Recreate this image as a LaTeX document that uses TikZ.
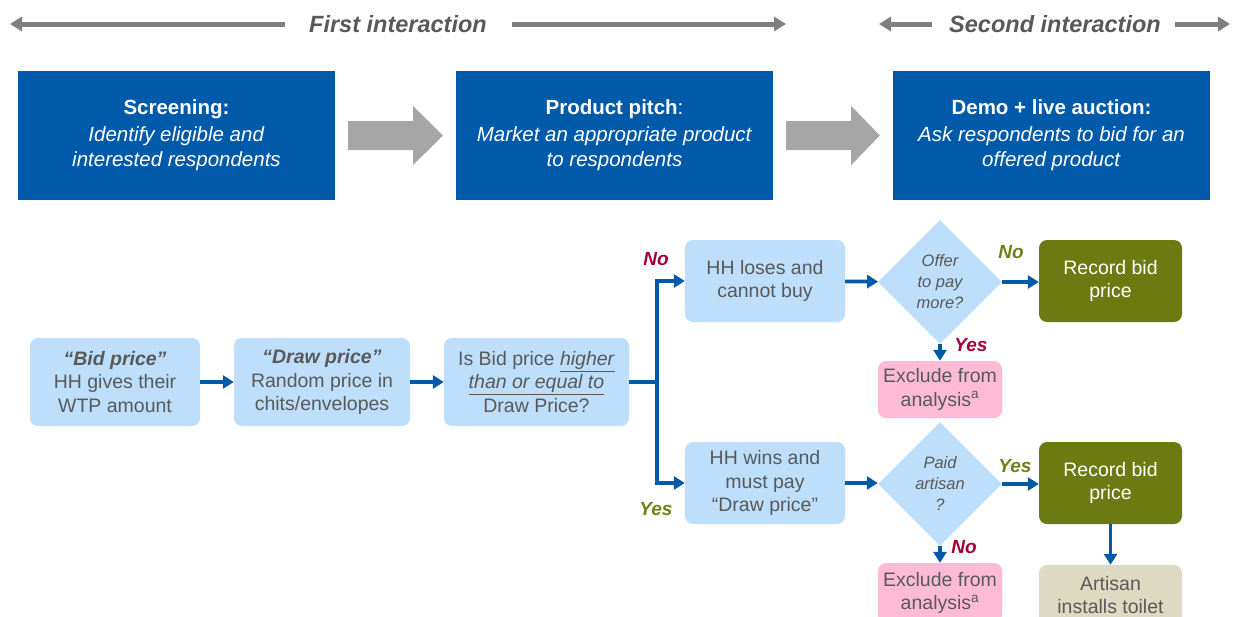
\documentclass[tikz,border=0pt]{standalone}
\usepackage{fontspec}
\setmainfont{Liberation Sans}
\usetikzlibrary{shapes.geometric,arrows.meta,calc}
\definecolor{topblue}{RGB}{0,90,170}
\definecolor{lightblue}{RGB}{189,223,251}
\definecolor{flowblue}{RGB}{0,90,168}
\definecolor{olive}{RGB}{107,123,18}
\definecolor{labolive}{RGB}{112,128,25}
\definecolor{crimson}{RGB}{165,0,52}
\definecolor{pinkbox}{RGB}{255,187,214}
\definecolor{beige}{RGB}{221,217,195}
\definecolor{txtgrey}{RGB}{89,89,89}
\definecolor{hdrgrey}{RGB}{127,127,127}
\definecolor{bigarrow}{RGB}{166,166,166}
\tikzset{
  topbox/.style={fill=topblue, text=white, minimum width=317pt, minimum height=129pt, align=center, inner sep=0pt,
    font=\fontsize{20.5}{25.5}\selectfont},
  lbox/.style={fill=lightblue, text=txtgrey, rounded corners=8pt, minimum height=88pt, align=center, inner sep=0pt,
    font=\fontsize{19.5}{23.5}\selectfont},
  dbox/.style={fill=lightblue, text=txtgrey, diamond, minimum width=124pt, minimum height=124pt, inner sep=0pt,
    align=center, font=\fontsize{16.5}{21}\selectfont\itshape},
  rbox/.style={fill=olive, text=white, rounded corners=8pt, minimum width=143pt, minimum height=82pt, align=center,
    inner sep=0pt, font=\fontsize{19.5}{23.5}\selectfont},
  xbox/.style={fill=pinkbox, text=txtgrey, rounded corners=8pt, minimum width=124pt, align=center, inner sep=0pt,
    font=\fontsize{19.5}{23.5}\selectfont},
  abox/.style={fill=beige, text=txtgrey, rounded corners=8pt, minimum width=143pt, minimum height=60pt, align=center,
    inner sep=0pt, font=\fontsize{19.5}{23.5}\selectfont},
  flow/.style={draw=flowblue, line width=3.8pt},
  flowarr/.style={flow, -{Triangle[length=11pt,width=13pt]}},
  hdr/.style={draw=hdrgrey, line width=5pt},
  hdrarr/.style={hdr, -{Triangle[length=12pt,width=14pt]}},
  hdrtext/.style={text=txtgrey, font=\fontsize{23.5}{26}\selectfont\bfseries\itshape},
  labno/.style={text=crimson, font=\fontsize{19}{22}\selectfont\bfseries\itshape},
  labyes/.style={text=labolive, font=\fontsize{19}{22}\selectfont\bfseries\itshape},
}
\begin{document}
\begin{tikzpicture}[x=1pt,y=-1pt]
\useasboundingbox (0,0) rectangle (1233,616);
% header
\node[hdrtext] (h1) at (398,24) {First interaction};
\node[hdrtext] (h2) at (1055,24) {Second interaction};
\coordinate (h1l) at (10,24);
\coordinate (h1r) at (786,24);
\coordinate (h2l) at (879,24);
\coordinate (h2r) at (1230,24);
\draw[hdrarr] (285,24) -- (h1l);
\draw[hdrarr] (512,24) -- (h1r);
\draw[hdrarr] (932,24) -- (h2l);
\draw[hdrarr] (1175,24) -- (h2r);
% top boxes
\node[topbox] (s1) at (176.5,135.5) {\textbf{Screening:}\\[1pt]\textit{Identify eligible and}\\\textit{interested respondents}};
\node[topbox] (s2) at (614.5,135.5) {\textbf{Product pitch}:\\[1pt]\textit{Market an appropriate product}\\\textit{to respondents}};
\node[topbox] (s3) at (1051.5,135.5) {\textbf{Demo + live auction:}\\[1pt]\textit{Ask respondents to bid for an}\\\textit{offered product}};
\foreach \a/\b in {s1/s2, s2/s3}{
  \fill[bigarrow] ($(\a.east)+(13,-14.5)$) -- ($(\a.east)+(78,-14.5)$) -- ($(\a.east)+(78,-29.5)$)
    -- ($(\b.west)+(-13,0)$) -- ($(\a.east)+(78,29.5)$) -- ($(\a.east)+(78,14.5)$) -- ($(\a.east)+(13,14.5)$) -- cycle;
}
% flowchart
\node[lbox, minimum width=170pt] (A) at (115,382) {\textbf{\textit{“Bid price”}}\\HH gives their\\WTP amount};
\node[lbox, minimum width=176pt] (B) at (322,382) {\textbf{\textit{“Draw price”}}\\Random price in\\chits/envelopes};
\node[lbox, minimum width=185pt] (C) at (536.5,382) {Is Bid price \underline{\textit{higher}}\\\underline{\textit{than or equal to}}\\Draw Price?};
\node[lbox, minimum width=160pt, minimum height=82pt] (D) at (765,281) {HH loses and\\cannot buy};
\node[lbox, minimum width=160pt, minimum height=82pt] (E) at (765,483) {HH wins and\\must pay\\“Draw price”};
\node[dbox] (Q1) at (940,282) {Offer\\to pay\\more?};
\node[dbox] (Q2) at (940,484) {Paid\\artisan\\?};
\node[rbox] (R1) at (1110.5,281) {Record bid\\price};
\node[rbox] (R2) at (1110.5,483) {Record bid\\price};
\node[xbox, minimum height=57pt] (X1) at (940,389.5) {Exclude from\\analysis\textsuperscript{a}};
\node[xbox, minimum height=60pt] (X2) at (940,593) {Exclude from\\analysis\textsuperscript{a}};
\node[abox] (AR) at (1110.5,595) {Artisan\\installs toilet};
\coordinate (split) at (657,382);
\draw[flowarr] (A) -- (B);
\draw[flowarr] (B) -- (C);
\draw[flow] (C.east) -- (split);
\draw[flowarr] (split) |- (D.west);
\draw[flowarr] (split) |- (E.west);
\draw[flowarr] (D) -- (Q1);
\draw[flowarr] (E.east) -- (E.east -| Q2.west);
\draw[flowarr] (Q1) -- (R1.west |- Q1);
\draw[flowarr] (Q2) -- (R2.west |- Q2);
\draw[flowarr] (Q1) -- (X1);
\draw[flowarr] (Q2) -- (X2);
\draw[flowarr] (R2) -- (AR);
% labels
\node[labno] (l1) at (656,259) {No};
\node[labyes] (l2) at (656,509) {Yes};
\node[labyes] (l3) at (1011,252) {No};
\node[labno] (l4) at (971,345) {Yes};
\node[labyes] (l5) at (1015,466) {Yes};
\node[labno] (l6) at (964,547) {No};
\end{tikzpicture}
\end{document}
